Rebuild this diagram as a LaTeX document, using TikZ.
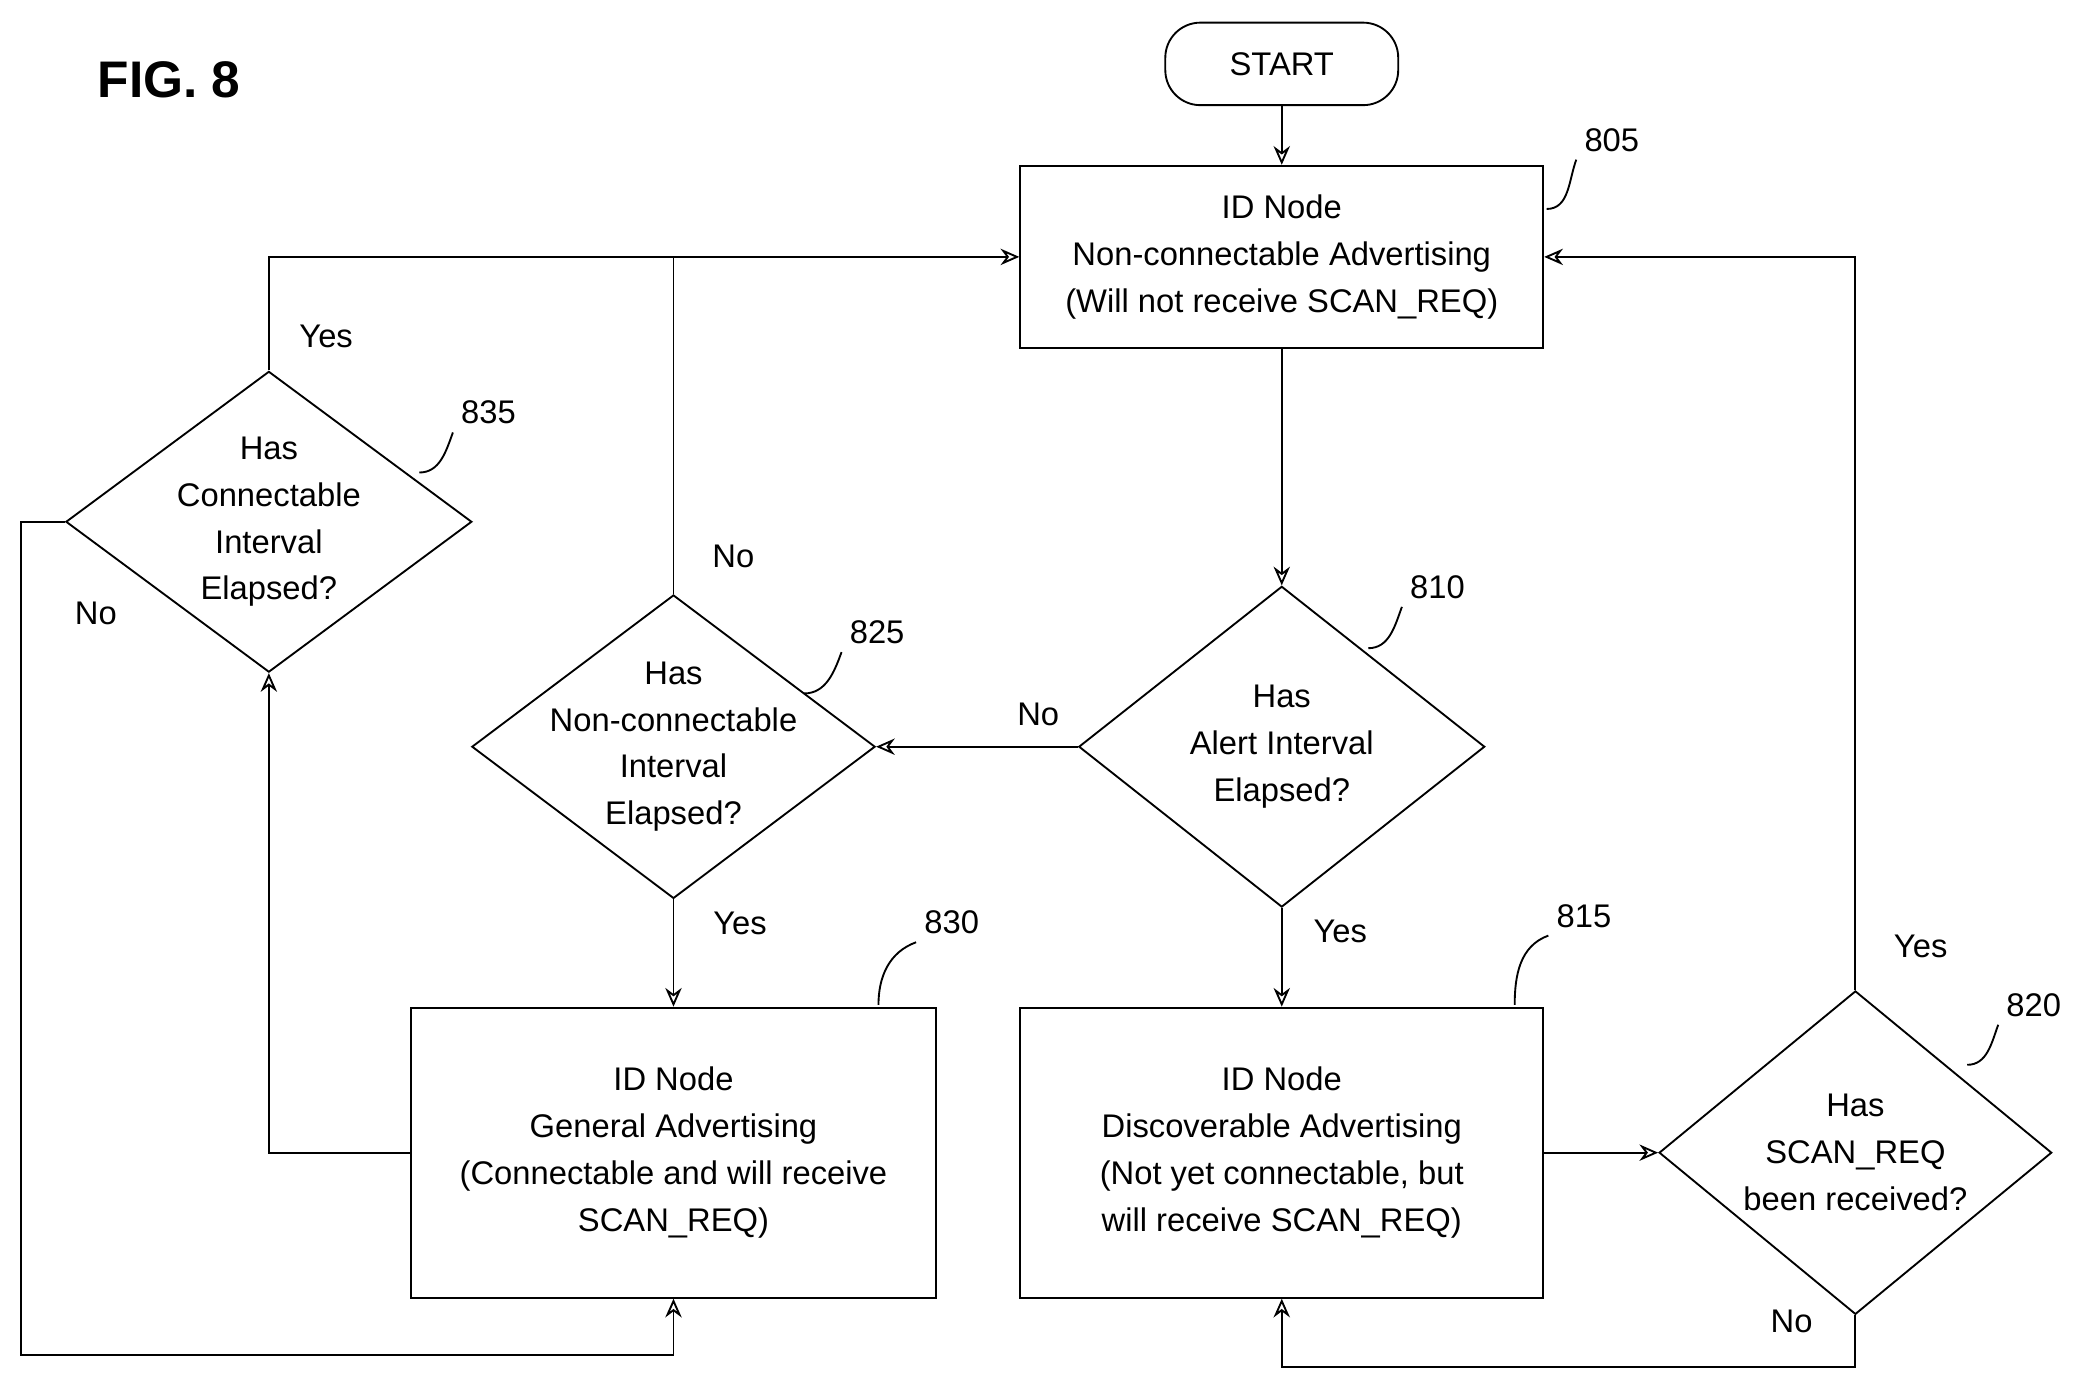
\documentclass[tikz,border=0pt]{standalone}
\usepackage{fontspec}
\setmainfont{Liberation Sans}
\usetikzlibrary{shapes.geometric,arrows.meta}

\tikzset{
  box/.style={draw,thick,rectangle,inner sep=0pt},
  dec/.style={draw,thick,diamond,inner sep=0pt},
  term/.style={draw,thick,rounded rectangle,inner sep=0pt},
  txt/.style={align=center,font=\fontsize{14}{20}\selectfont},
  ref/.style={font=\fontsize{14}{17}\selectfont},
  arr/.style={thick,-{Stealth[length=8pt,width=7pt,open]}},
  ln/.style={thick}
}

\begin{document}
\begin{tikzpicture}[x=0.02cm,y=-0.02cm]
    \useasboundingbox (0,0) rectangle (1568,1046);

    \node[font=\bfseries\fontsize{22}{26}\selectfont] (fig) at (127,60) {FIG. 8};

    % shapes
    \node[draw,thick,rounded corners=15pt,minimum width=175*0.02cm,minimum height=62*0.02cm,txt] (start) at (963,48) {START};
    \node[box,minimum width=393*0.02cm,minimum height=137*0.02cm,txt] (b805) at (963,193)
        {ID Node\\Non-connectable Advertising\\(Will not receive SCAN\_REQ)};
    \node[dec,minimum width=305*0.02cm,minimum height=241*0.02cm,
        label={[txt]center:Has\\Alert Interval\\Elapsed?}] (d810) at (963,561) {};
    \node[dec,minimum width=303*0.02cm,minimum height=228*0.02cm,
        label={[txt]center:Has\\Non-connectable\\Interval\\Elapsed?}] (d825) at (506,561) {};
    \node[dec,minimum width=305*0.02cm,minimum height=226*0.02cm,
        label={[txt]center:Has\\Connectable\\Interval\\Elapsed?}] (d835) at (202,392) {};
    \node[box,minimum width=394*0.02cm,minimum height=218*0.02cm,txt] (b830) at (506,866)
        {ID Node\\General Advertising\\(Connectable and will receive\\SCAN\_REQ)};
    \node[box,minimum width=393*0.02cm,minimum height=218*0.02cm,txt] (b815) at (963,866)
        {ID Node\\Discoverable Advertising\\(Not yet connectable, but\\will receive SCAN\_REQ)};
    \node[dec,minimum width=295*0.02cm,minimum height=243*0.02cm,
        label={[txt]center:Has\\SCAN\_REQ\\been received?}] (d820) at (1394,866) {};

    % connectors
    \coordinate (j825) at (506,193);
    \draw[arr] (start) -- (b805);
    \draw[arr] (b805) -- (d810);
    \draw[arr] (d810.west) -- (d825.east);
    \draw[arr] (d810.south) -- (b815);
    \draw[arr] (b815.east) -- (d820.west);
    \draw[arr] (d820.north) |- (b805.east);
    \draw[arr] (d820.south) -- (d820.south |- 0,1027) -| (b815.south);
    \draw[arr] (d825.south) -- (b830.north);
    \draw[ln] (d825.north) -- (j825);
    \draw[arr] (d835.north) |- (b805.west);
    \draw[arr] (b830.west) -| (d835.south);
    \draw[arr] (d835.west) -- (16,392) -- (16,1018) -| (b830.south);

    % branch labels
    \node[txt] (n810) at (780,537) {No};
    \node[txt] (y810) at (1007,700) {Yes};
    \node[txt] (y820) at (1443,711) {Yes};
    \node[txt] (n820) at (1346,993) {No};
    \node[txt] (y825) at (556,694) {Yes};
    \node[txt] (n825) at (551,418) {No};
    \node[txt] (y835) at (245,253) {Yes};
    \node[txt] (n835) at (72,461) {No};

    % reference numbers
    \node[ref] (r805) at (1211,105) {805};
    \node[ref] (r810) at (1080,441) {810};
    \node[ref] (r835) at (367,310) {835};
    \node[ref] (r825) at (659,475) {825};
    \node[ref] (r830) at (715,693) {830};
    \node[ref] (r815) at (1190,688) {815};
    \node[ref] (r820) at (1528,755) {820};
    \draw[ln] (1162,157) to[out=0,in=250] (r805.south west);
    \draw[ln] (1028,487) to[out=0,in=250] (r810.south west);
    \draw[ln] (315,355) to[out=0,in=250] (r835.south west);
    \draw[ln] (604,521) to[out=0,in=250] (r825.south west);
    \draw[ln] (660,755) to[out=90,in=200] (r830.south west);
    \draw[ln] (1138,755) to[out=90,in=200] (r815.south west);
    \draw[ln] (1478,800) to[out=0,in=250] (r820.south west);
\end{tikzpicture}
\end{document}
